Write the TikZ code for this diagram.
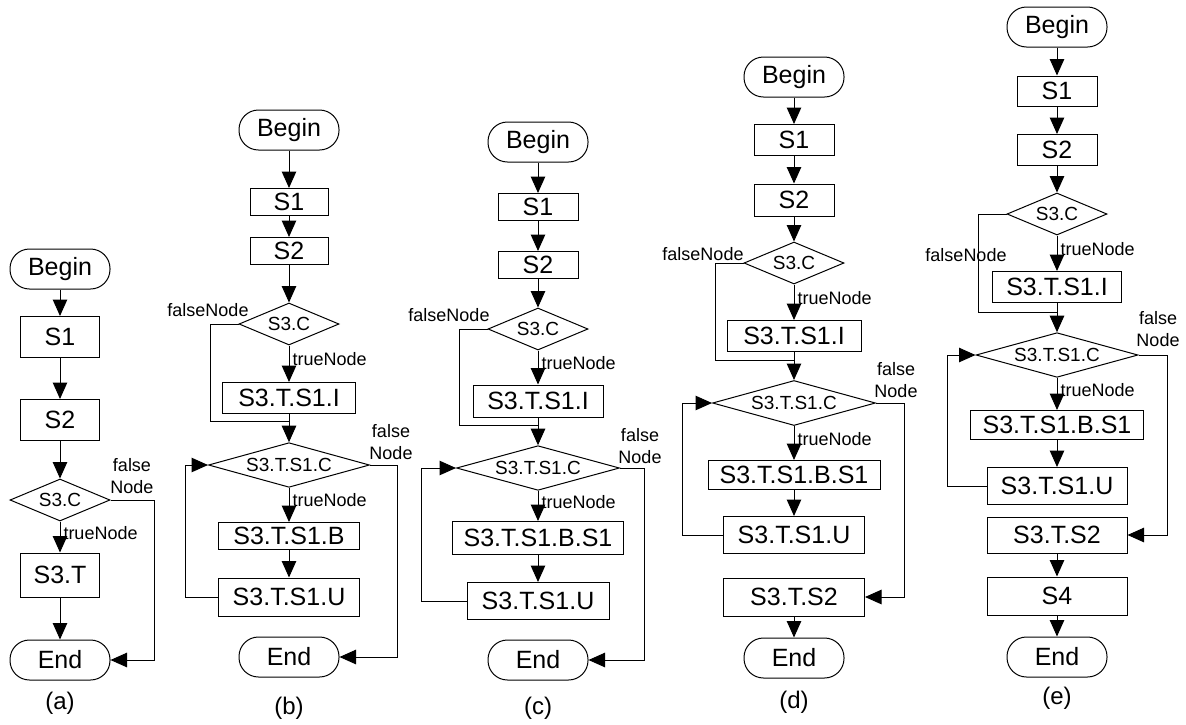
\documentclass[tikz,border=0pt]{standalone}
\usepackage{fontspec}
\setmainfont{Liberation Sans}
\usetikzlibrary{shapes.geometric, arrows.meta}

\begin{document}
\begin{tikzpicture}[x=1pt, y=-1pt, line width=1pt,
    term/.style={draw, rectangle, rounded corners=19.5pt, minimum width=100pt, minimum height=40pt, inner sep=0pt, font=\fontsize{25}{27}\selectfont},
    box/.style 2 args={draw, rectangle, minimum width=#1pt, minimum height=#2pt, inner sep=0pt, font=\fontsize{25}{27}\selectfont},
    cond/.style 2 args={draw, diamond, shape aspect=3, minimum width=#1pt, minimum height=#2pt, inner sep=1pt, font=\fontsize{19}{21}\selectfont},
    lbl/.style={inner sep=1pt, font=\fontsize{18}{22}\selectfont},
    tag/.style={font=\fontsize{24}{26}\selectfont},
    arr/.style={-{Triangle[length=16.5pt, width=14.5pt]}}]
            \useasboundingbox (0,0) rectangle (1186,724);
            % (a)
            \node[term] (aBegin) at (60,269) {Begin};
            \node[box={79}{41}] (aS1) at (60,337) {S1};
            \node[box={79}{41}] (aS2) at (60,420) {S2};
            \node[cond={100}{42}] (aC) at (60,500) {S3.C};
            \node[box={79}{44}] (aT) at (60,575) {S3.T};
            \node[term] (aEnd) at (60,660) {End};
            \node[lbl, align=center] (aF) at (132,476) {false\\Node};
            \node[tag] (aTag) at (60,703) {(a)};
            \draw[arr] (aBegin) -- (aS1);
            \draw[arr] (aS1) -- (aS2);
            \draw[arr] (aS2) -- (aC);
            \draw[arr] (aC) -- node[lbl, right=2pt, pos=0.37] (aTr) {trueNode} (aT);
            \draw[arr] (aT) -- (aEnd);
            \draw[arr] (aC.east) -- ++(44,0) |- (aEnd.east);
            % (b)
            \node[term] (bBegin) at (289,130) {Begin};
            \node[box={78}{27}] (bS1) at (289,202) {S1};
            \node[box={78}{27}] (bS2) at (289,251) {S2};
            \node[cond={100}{42}] (bC) at (289,324) {S3.C};
            \node[box={133}{31}] (bI) at (289,398) {S3.T.S1.I};
            \node[cond={161}{43}] (bLC) at (289,465) {S3.T.S1.C};
            \node[box={141}{27}] (bB) at (289,536) {S3.T.S1.B};
            \node[box={141}{38}] (bU) at (289,597) {S3.T.S1.U};
            \node[term] (bEnd) at (289,657) {End};
            \coordinate (bJ) at (289,421);
            \node[lbl] (bF) at (208,310) {falseNode};
            \node[lbl, align=center] (bF2) at (391,442) {false\\Node};
            \node[tag] (bTag) at (289,708) {(b)};
            \draw[arr] (bBegin) -- (bS1);
            \draw[arr] (bS1) -- (bS2);
            \draw[arr] (bS2) -- (bC);
            \draw[arr] (bC) -- node[lbl, right=2pt, pos=0.37] (bTr) {trueNode} (bI);
            \draw (bC.west) -- ++(-28,0) |- (bJ);
            \draw[arr] (bI) -- (bLC);
            \draw[arr] (bLC) -- node[lbl, right=2pt, pos=0.37] (bTr2) {trueNode} (bB);
            \draw[arr] (bB) -- (bU);
            \draw[arr] (bU.west) -- ++(-33,0) |- (bLC.west);
            \draw[arr] (bLC.east) -- ++(27,0) |- (bEnd.east);
            % (c)
            \node[term] (cBegin) at (538,142) {Begin};
            \node[box={80}{27}] (cS1) at (538,207) {S1};
            \node[box={80}{27}] (cS2) at (538,265) {S2};
            \node[cond={100}{42}] (cC) at (538,329) {S3.C};
            \node[box={130}{32}] (cI) at (538,401) {S3.T.S1.I};
            \node[cond={163}{43}] (cLC) at (538,468) {S3.T.S1.C};
            \node[box={171}{33}] (cB) at (538,538) {S3.T.S1.B.S1};
            \node[box={142}{37}] (cU) at (538,601) {S3.T.S1.U};
            \node[term] (cEnd) at (538,660) {End};
            \coordinate (cJ) at (538,425);
            \node[lbl] (cF) at (449,315) {falseNode};
            \node[lbl, align=center] (cF2) at (640,446) {false\\Node};
            \node[tag] (cTag) at (538,708) {(c)};
            \draw[arr] (cBegin) -- (cS1);
            \draw[arr] (cS1) -- (cS2);
            \draw[arr] (cS2) -- (cC);
            \draw[arr] (cC) -- node[lbl, right=2pt, pos=0.37] (cTr) {trueNode} (cI);
            \draw (cC.west) -- ++(-28,0) |- (cJ);
            \draw[arr] (cI) -- (cLC);
            \draw[arr] (cLC) -- node[lbl, right=2pt, pos=0.37] (cTr2) {trueNode} (cB);
            \draw[arr] (cB) -- (cU);
            \draw[arr] (cU.west) -- ++(-45,0) |- (cLC.west);
            \draw[arr] (cLC.east) -- ++(24.5,0) |- (cEnd.east);
            % (d)
            \node[term] (dBegin) at (794,77) {Begin};
            \node[box={80}{31}] (dS1) at (794,140) {S1};
            \node[box={80}{32}] (dS2) at (794,200) {S2};
            \node[cond={100}{42}] (dC) at (794,263) {S3.C};
            \node[box={134}{31}] (dI) at (794,336) {S3.T.S1.I};
            \node[cond={163}{45}] (dLC) at (794,403) {S3.T.S1.C};
            \node[box={172}{29}] (dB) at (794,475) {S3.T.S1.B.S1};
            \node[box={141}{37}] (dU) at (794,535) {S3.T.S1.U};
            \node[box={141}{38}] (dS32) at (794,597) {S3.T.S2};
            \node[term] (dEnd) at (794,658) {End};
            \coordinate (dJ) at (794,360);
            \node[lbl] (dF) at (703,254) {falseNode};
            \node[lbl, align=center] (dF2) at (896,380) {false\\Node};
            \node[tag] (dTag) at (794,702) {(d)};
            \draw[arr] (dBegin) -- (dS1);
            \draw[arr] (dS1) -- (dS2);
            \draw[arr] (dS2) -- (dC);
            \draw[arr] (dC) -- node[lbl, right=2pt, pos=0.37] (dTr) {trueNode} (dI);
            \draw (dC.west) -- ++(-28,0) |- (dJ);
            \draw[arr] (dI) -- (dLC);
            \draw[arr] (dLC) -- node[lbl, right=2pt, pos=0.37] (dTr2) {trueNode} (dB);
            \draw[arr] (dB) -- (dU);
            \draw[arr] (dU.west) -- ++(-40.5,0) |- (dLC.west);
            \draw[arr] (dLC.east) -- ++(28.5,0) |- (dS32.east);
            \draw[arr] (dS32) -- (dEnd);
            % (e)
            \node[term] (eBegin) at (1057,27) {Begin};
            \node[box={80}{30}] (eS1) at (1057,91) {S1};
            \node[box={80}{31}] (eS2) at (1057,150) {S2};
            \node[cond={100}{42}] (eC) at (1057,214) {S3.C};
            \node[box={129}{31}] (eI) at (1057,287) {S3.T.S1.I};
            \node[cond={162}{43}] (eLC) at (1057,355) {S3.T.S1.C};
            \node[box={173}{29}] (eB) at (1057,425) {S3.T.S1.B.S1};
            \node[box={140}{37}] (eU) at (1057,486) {S3.T.S1.U};
            \node[box={140}{36}] (eS32) at (1057,535) {S3.T.S2};
            \node[box={140}{38}] (eS4) at (1057,596) {S4};
            \node[term] (eEnd) at (1057,657) {End};
            \coordinate (eJ) at (1057,312);
            \node[lbl] (eF) at (966,255) {falseNode};
            \node[lbl, align=center] (eF2) at (1158,329) {false\\Node};
            \node[tag] (eTag) at (1057,698) {(e)};
            \draw[arr] (eBegin) -- (eS1);
            \draw[arr] (eS1) -- (eS2);
            \draw[arr] (eS2) -- (eC);
            \draw[arr] (eC) -- node[lbl, right=2pt, pos=0.37] (eTr) {trueNode} (eI);
            \draw (eC.west) -- ++(-28,0) |- (eJ);
            \draw[arr] (eI) -- (eLC);
            \draw[arr] (eLC) -- node[lbl, right=2pt, pos=0.37] (eTr2) {trueNode} (eB);
            \draw[arr] (eB) -- (eU);
            \draw[arr] (eU.west) -- ++(-39,0) |- (eLC.west);
            \draw[arr] (eLC.east) -- ++(29,0) |- (eS32.east);
            \draw[arr] (eS32) -- (eS4);
            \draw[arr] (eS4) -- (eEnd);
        \end{tikzpicture}
\end{document}
